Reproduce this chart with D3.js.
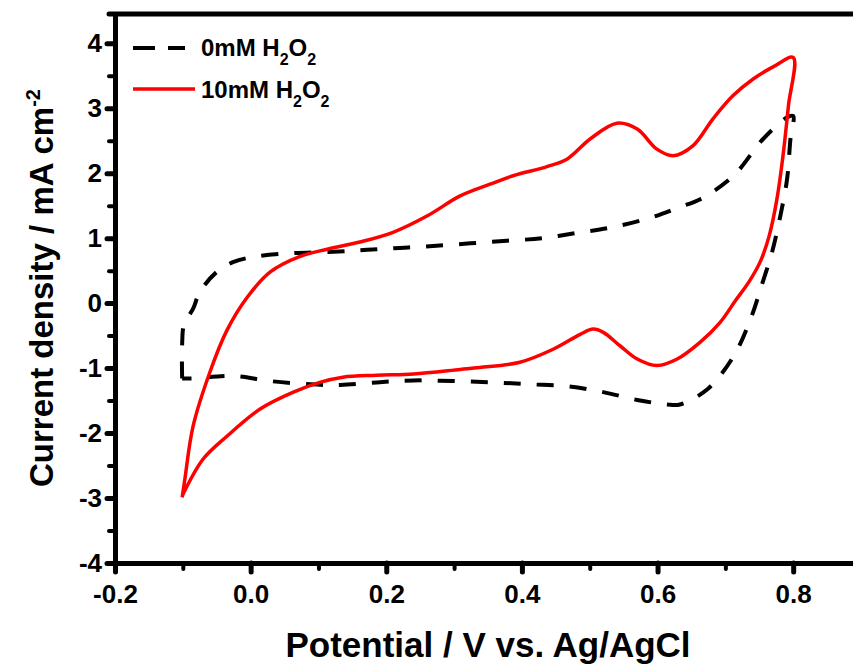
<!DOCTYPE html>
<html>
<head>
<meta charset="utf-8">
<script src="https://cdnjs.cloudflare.com/ajax/libs/d3/7.8.5/d3.min.js"></script>
<style>
  body { margin: 0; background: #fff; }
  text { font-family: "Liberation Sans", Arial, sans-serif; font-weight: bold; fill: #000; }
</style>
</head>
<body>
<div id="chart"></div>
<script>
// CV data, potential (V) and current density (mA cm-2)
// 0 mM H2O2 : anodic sweep then cathodic sweep
const blankV = [-0.101, -0.101, -0.098, -0.085, -0.075, -0.050, -0.026, 0.009, 0.063, 0.122, 0.172, 0.220, 0.269, 0.324, 0.378, 0.431, 0.481, 0.535, 0.594, 0.633, 0.663, 0.712, 0.756, 0.793, 0.800,
  0.796, 0.791, 0.781, 0.769, 0.754, 0.737, 0.712, 0.673, 0.633, 0.614, 0.570, 0.520, 0.467, 0.412, 0.358, 0.299, 0.240, 0.186, 0.132, 0.088, 0.029, -0.026, -0.085, -0.101];
const blankI = [-1.16, -0.63, -0.32, -0.09, 0.17, 0.48, 0.63, 0.72, 0.77, 0.79, 0.82, 0.85, 0.88, 0.92, 0.96, 1.00, 1.08, 1.17, 1.33, 1.48, 1.60, 1.96, 2.53, 2.87, 2.88,
  2.53, 1.91, 1.34, 0.79, 0.29, -0.25, -0.82, -1.33, -1.56, -1.56, -1.49, -1.37, -1.28, -1.25, -1.22, -1.20, -1.19, -1.22, -1.26, -1.25, -1.20, -1.12, -1.16, -1.16];

// 10 mM H2O2
const h2o2V = [-0.101, -0.097, -0.085, -0.060, -0.035, -0.005, 0.029, 0.073, 0.113, 0.161, 0.210, 0.260, 0.309, 0.353, 0.387, 0.437, 0.467, 0.501, 0.540, 0.570, 0.599, 0.623, 0.652, 0.682, 0.711, 0.741, 0.771, 0.800,
  0.793, 0.785, 0.776, 0.765, 0.752, 0.735, 0.715, 0.692, 0.663, 0.629, 0.599, 0.570, 0.545, 0.520, 0.505, 0.486, 0.446, 0.397, 0.338, 0.309, 0.240, 0.186, 0.136, 0.102, 0.063, 0.014, -0.035, -0.070, -0.101];
const h2o2I = [-2.99, -2.71, -1.90, -1.06, -0.42, 0.09, 0.48, 0.72, 0.83, 0.94, 1.09, 1.34, 1.65, 1.83, 1.96, 2.10, 2.22, 2.53, 2.77, 2.68, 2.37, 2.27, 2.42, 2.84, 3.19, 3.45, 3.64, 3.78,
  3.04, 2.27, 1.60, 1.05, 0.65, 0.33, 0.04, -0.30, -0.60, -0.86, -0.96, -0.86, -0.66, -0.45, -0.40, -0.48, -0.71, -0.91, -0.99, -1.02, -1.09, -1.11, -1.14, -1.22, -1.37, -1.63, -2.05, -2.40, -2.97];

const xMajor = [-0.2, 0.0, 0.2, 0.4, 0.6, 0.8];
const xMinor = [-0.1, 0.1, 0.3, 0.5, 0.7];
const yMajor = [-4, -3, -2, -1, 0, 1, 2, 3, 4];
const yMinor = [-3.5, -2.5, -1.5, -0.5, 0.5, 1.5, 2.5, 3.5];

const W = 853, H = 667;
const svg = d3.select("#chart").append("svg")
    .attr("width", W)
    .attr("height", H);

const x = d3.scaleLinear().domain([-0.2, 0.9]).range([115, 861]);
const y = d3.scaleLinear().domain([-4, 4.45]).range([563, 14]);

// plain hyphen for negative numbers, like the original
const loc = d3.formatLocale({ decimal: ".", thousands: ",", grouping: [3], currency: ["", ""], minus: "-" });

const line = d3.line()
    .x(d => x(d[0]))
    .y(d => y(d[1]))
    .curve(d3.curveCatmullRom.alpha(0.5));

svg.append("path")
    .datum(d3.zip(blankV, blankI))
    .attr("d", line)
    .attr("fill", "none")
    .attr("stroke", "#000")
    .attr("stroke-width", 4)
    .attr("stroke-dasharray", "17,16");

svg.append("path")
    .datum(d3.zip(h2o2V, h2o2I))
    .attr("d", line)
    .attr("fill", "none")
    .attr("stroke", "#ff0000")
    .attr("stroke-width", 3.5)
    .attr("stroke-linejoin", "round");

// axes
function styleAxis(g, w) {
    g.select(".domain").attr("stroke-width", 5).attr("stroke-linecap", "round");
    g.selectAll(".tick line").attr("stroke-width", w).attr("stroke-linecap", "round");
    g.selectAll("text").style("font-size", "26px");
}

svg.append("g")
    .attr("transform", `translate(0,${y(-4)})`)
    .call(d3.axisBottom(x).tickValues(xMinor).tickSize(6).tickSizeOuter(0).tickFormat(""))
    .call(g => g.select(".domain").remove())
    .call(g => styleAxis(g, 4));

svg.append("g")
    .attr("transform", `translate(${x(-0.2)},0)`)
    .call(d3.axisLeft(y).tickValues(yMinor).tickSize(6).tickSizeOuter(0).tickFormat(""))
    .call(g => g.select(".domain").remove())
    .call(g => styleAxis(g, 4));

svg.append("g")
    .attr("transform", `translate(0,${y(-4)})`)
    .call(d3.axisBottom(x).tickValues(xMajor).tickSize(9).tickPadding(13).tickSizeOuter(0).tickFormat(loc.format(".1f")))
    .call(g => styleAxis(g, 5));

svg.append("g")
    .attr("transform", `translate(${x(-0.2)},0)`)
    .call(d3.axisLeft(y).tickValues(yMajor).tickSize(8).tickPadding(5).tickSizeOuter(0).tickFormat(loc.format("d")))
    .call(g => styleAxis(g, 5));

// top frame
svg.append("line")
    .attr("x1", x(-0.2) - 6).attr("x2", x(0.9))
    .attr("y1", y(4.45)).attr("y2", y(4.45))
    .attr("stroke", "#000")
    .attr("stroke-width", 5)
    .attr("stroke-linecap", "round");

// axis titles
svg.append("text")
    .attr("x", 488)
    .attr("y", 657)
    .attr("text-anchor", "middle")
    .style("font-size", "35px")
    .text("Potential / V vs. Ag/AgCl");

const yt = svg.append("text")
    .attr("transform", "translate(53,288) rotate(-90)")
    .attr("text-anchor", "middle")
    .style("font-size", "33px");
yt.append("tspan").text("Current density / mA cm");
yt.append("tspan").attr("dy", -13).style("font-size", "20px").text("-2");

// legend
const legend = [
    { label: "0mM H", color: "#000", dash: "22,13", x2: 185, ly: 48, ty: 56 },
    { label: "10mM H", color: "#ff0000", dash: null, x2: 195, ly: 89, ty: 98 }
];
legend.forEach(l => {
    svg.append("line")
        .attr("x1", 133).attr("x2", l.x2)
        .attr("y1", l.ly).attr("y2", l.ly)
        .attr("stroke", l.color)
        .attr("stroke-width", l.dash ? 4 : 3.5)
        .attr("stroke-dasharray", l.dash);
    const t = svg.append("text")
        .attr("x", 201)
        .attr("y", l.ty)
        .style("font-size", "24px");
    t.append("tspan").text(l.label);
    t.append("tspan").attr("dy", 9).style("font-size", "16px").text("2");
    t.append("tspan").attr("dy", -9).text("O");
    t.append("tspan").attr("dy", 9).style("font-size", "16px").text("2");
});
</script>
</body>
</html>
